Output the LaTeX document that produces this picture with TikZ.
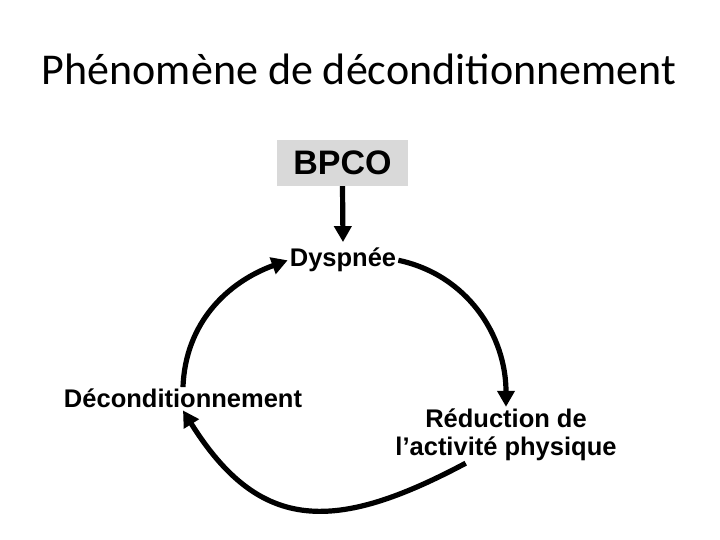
\documentclass[tikz,border=0pt]{standalone}
\usepackage{fontspec}
\setmainfont{Carlito}
\newfontfamily\arialfont{Liberation Sans}
\usepackage{tikz}
\usetikzlibrary{arrows.meta}
\definecolor{boxgray}{RGB}{217,217,217}
\tikzstyle{arrow}    = [line width=5.2pt,-{Triangle[length=16pt,width=17pt]}]

\begin{document}
\begin{tikzpicture}[
    x=1pt, y=1pt,
    title/.style={font=\fontsize{44}{50}\selectfont, anchor=base},
    tlabel/.style={font=\arialfont\bfseries\fontsize{25.5}{28}\selectfont, inner sep=2pt},
    causebox/.style={fill=boxgray, minimum width=131pt, minimum height=46pt,
      font=\arialfont\bfseries\fontsize{34}{38}\selectfont},
  ]
  \useasboundingbox (0,0) rectangle (720,540);
  \node[title] (titre) at (359,455) {Phénomène de déconditionnement};

  \node[causebox] (bpco) at (342.5,377) {BPCO};
  \node[tlabel, anchor=base] (dys) at (343,273) {Dyspnée};
  \node[tlabel, anchor=base] (deco) at (183,132) {Déconditionnement};
  \node[tlabel, align=center] (red) at (506,105) {Réduction de\\l’activité physique};

  \draw[arrow] (bpco.south) -- ([yshift=4pt]dys.north);
  \draw[arrow] (dys.east) to[out=-12, in=90] (red.north);
  \draw[arrow] (red.215) to[out=208, in=-58, looseness=1.3] (deco.south);
  \draw[arrow] (deco.north) to[out=88, in=200] (dys.west);
  \end{tikzpicture}
\end{document}
